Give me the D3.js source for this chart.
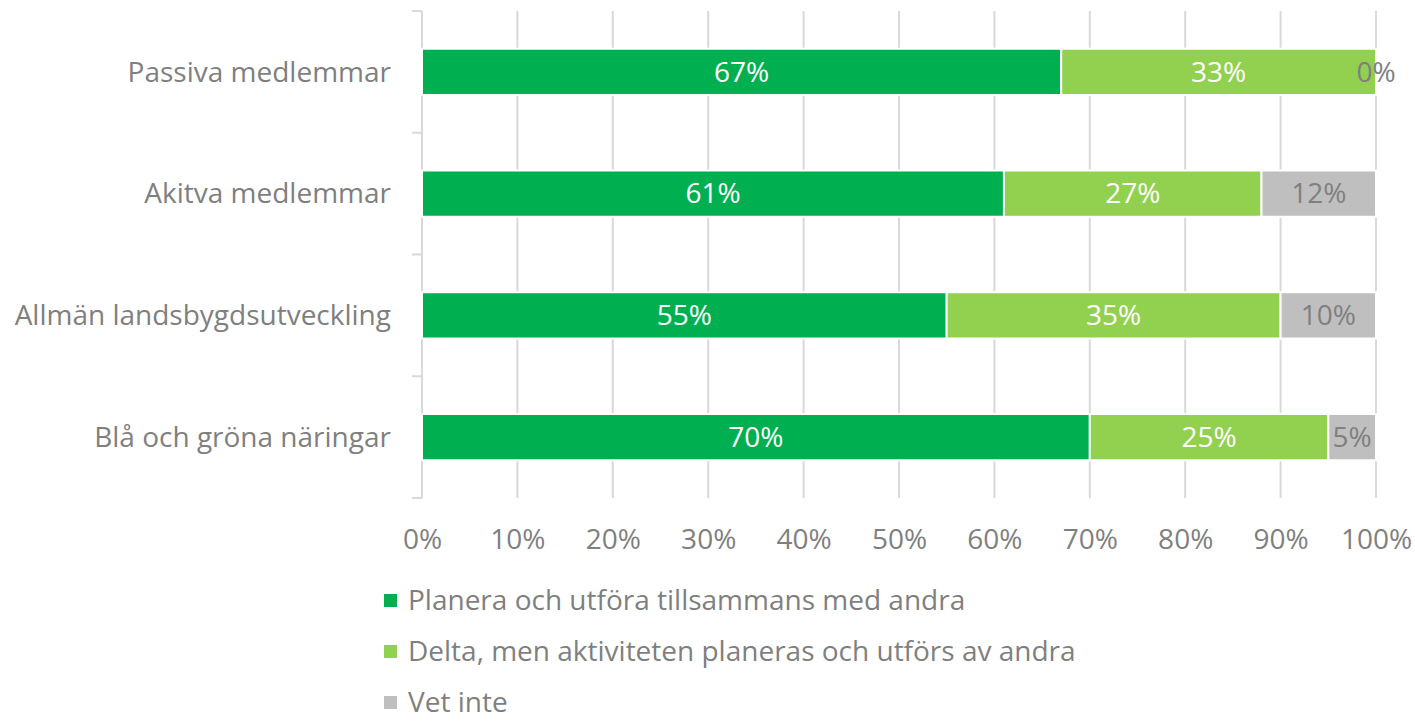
<!DOCTYPE html>
<html>
<head>
<meta charset="utf-8">
<script src="https://cdn.jsdelivr.net/npm/d3@7"></script>
<style>
body { margin: 0; background: #fff; }
text { font-family: "Open Sans", sans-serif; }
</style>
</head>
<body>
<script>
var categories = ["Passiva medlemmar", "Akitva medlemmar", "Allmän landsbygdsutveckling", "Blå och gröna näringar"];
var seriesNames = ["Planera och utföra tillsammans med andra", "Delta, men aktiviteten planeras och utförs av andra", "Vet inte"];
var planera = [67, 61, 55, 70];
var delta = [33, 27, 35, 25];
var vetInte = [0, 12, 10, 5];
var ticks = [0, 10, 20, 30, 40, 50, 60, 70, 80, 90, 100];
var colors = ["#00b050", "#92d050", "#bfbfbf"];
var labelColors = ["#ffffff", "#ffffff", "#7f7f7f"];

var W = 1415, H = 722;
var FS = 28;
var svg = d3.select("body").append("svg").attr("width", W).attr("height", H);

var x = d3.scaleLinear().domain([0, 100]).range([422, 1376]);
var y = d3.scaleBand().domain(categories).range([11, 498]).paddingInner(0.62).paddingOuter(0.31);

// gridlines
svg.append("g").selectAll("line").data(ticks.slice(1)).enter().append("line")
    .attr("x1", d => x(d)).attr("x2", d => x(d))
    .attr("y1", 11).attr("y2", 498)
    .attr("stroke", "#d9d9d9").attr("stroke-width", 2);

// category axis
svg.append("line").attr("x1", 422).attr("x2", 422).attr("y1", 11).attr("y2", 498)
    .attr("stroke", "#d9d9d9").attr("stroke-width", 2);
var bandStep = (498 - 11) / categories.length;
svg.append("g").selectAll("line").data(d3.range(categories.length + 1)).enter().append("line")
    .attr("x1", 412).attr("x2", 422)
    .attr("y1", d => 11 + d * bandStep).attr("y2", d => 11 + d * bandStep)
    .attr("stroke", "#d9d9d9").attr("stroke-width", 2);

var rows = categories.map((c, i) => ({cat: c, vals: [planera[i], delta[i], vetInte[i]]}));
var stacked = rows.map(r => {
  var acc = 0;
  return r.vals.map((v, k) => { var s = {cat: r.cat, k: k, v: v, x0: acc, x1: acc + v}; acc += v; return s; });
});

var segs = svg.append("g").selectAll("g").data(stacked).enter().append("g");
segs.selectAll("rect").data(d => d).enter().append("rect")
    .attr("x", d => x(d.x0)).attr("width", d => x(d.x1) - x(d.x0))
    .attr("y", d => y(d.cat)).attr("height", y.bandwidth())
    .attr("fill", d => colors[d.k])
    .attr("stroke", "#fff").attr("stroke-width", 2);

segs.selectAll("text").data(d => d).enter().append("text")
    .attr("x", d => x((d.x0 + d.x1) / 2))
    .attr("y", d => y(d.cat) + y.bandwidth() / 2)
    .attr("dy", "0.35em").attr("text-anchor", "middle")
    .attr("font-size", FS)
    .attr("fill", d => d.v === 0 ? "#7f7f7f" : labelColors[d.k])
    .text(d => d.v + "%");

// category labels
svg.append("g").selectAll("text").data(categories).enter().append("text")
    .attr("x", 391).attr("y", d => y(d) + y.bandwidth() / 2)
    .attr("dy", "0.35em").attr("text-anchor", "end")
    .attr("font-size", FS).attr("fill", "#7f7f7f")
    .text(d => d);

// x axis labels
var xAxis = d3.axisBottom(x).tickValues(ticks).tickFormat(d => d + "%").tickSize(0).tickPadding(0);
var gx = svg.append("g").attr("transform", "translate(0,539)").call(xAxis);
gx.select(".domain").remove();
gx.selectAll("text").attr("font-size", FS).attr("fill", "#7f7f7f")
    .attr("font-family", "'Open Sans', sans-serif").attr("y", 0).attr("dy", "0.35em");

// legend
var leg = svg.append("g").selectAll("g").data(seriesNames).enter().append("g")
    .attr("transform", (d, i) => "translate(384," + (600 + i * 51) + ")");
leg.append("rect").attr("x", 0).attr("y", -6).attr("width", 13).attr("height", 13)
    .attr("fill", (d, i) => colors[i]);
leg.append("text").attr("x", 24).attr("y", 0).attr("dy", "0.35em")
    .attr("font-size", FS).attr("fill", "#7f7f7f")
    .text(d => d);
</script>
</body>
</html>
